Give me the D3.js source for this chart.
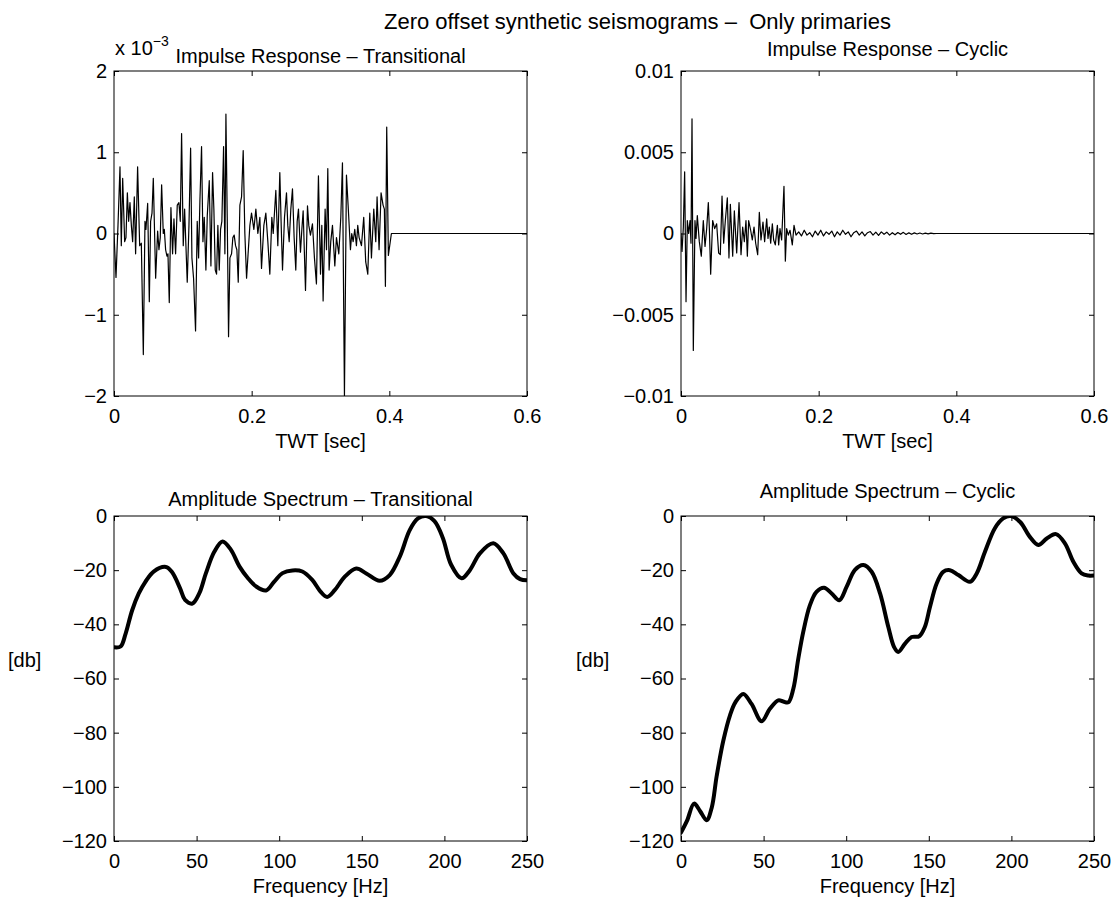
<!DOCTYPE html>
<html>
<head>
<meta charset="utf-8">
<script src="https://cdn.jsdelivr.net/npm/d3@7"></script>
<style>
  body { margin: 0; background: #fff; }
  svg text { font-family: "Liberation Sans", Arial, Helvetica, sans-serif; fill: #000; }
</style>
</head>
<body>
<svg id="fig" width="1118" height="907"></svg>
<script>
// ---- Impulse response, transitional sequence (time in s, amplitude in 1e-3) ----
const transTime = [0, .0029, .0058, .0087, .0106, .0126, .0155, .0174, .0194, .0213, .0232, .0252, .0271, .0295, .0314, .0343, .0373, .0397, .0426, .0450, .0464, .0489, .0513, .0532, .0552, .0571, .0605, .0634, .0653, .0672, .0692, .0716, .0731, .0750, .0769, .0784, .0803, .0827, .0851, .0871, .0895, .0919, .0943, .0963, .0982, .1006, .1026, .1045, .1064, .1089, .1113, .1132, .1156, .1185, .1209, .1229, .1248, .1272, .1292, .1311, .1335, .1355, .1384, .1408, .1432, .1451, .1471, .1490, .1509, .1529, .1548, .1567, .1592, .1611, .1626, .1645, .1664, .1684, .1708, .1727, .1746, .1766, .1785, .1805, .1829, .1853, .1877, .1901, .1926, .1974, .1998, .2032, .2061, .2090, .2119, .2143, .2177, .2206, .2235, .2264, .2293, .2313, .2351, .2380, .2409, .2429, .2448, .2477, .2506, .2525, .2545, .2569, .2593, .2617, .2641, .2661, .2680, .2709, .2729, .2748, .2782, .2811, .2830, .2854, .2883, .2912, .2941, .2970, .3000, .3019, .3038, .3067, .3087, .3106, .3125, .3149, .3174, .3208, .3232, .3266, .3295, .3319, .3348, .3377, .3401, .3435, .3454, .3474, .3498, .3522, .3541, .3561, .3595, .3628, .3657, .3687, .3716, .3740, .3774, .3803, .3822, .3851, .3880, .3909, .3928, .3943, .3962, .3986, .4030, .6];
const transAmp = [0, -0.54, 0.1, 0.82, -0.15, 0.68, -0.1, -0.05, 0.5, 0.15, 0.38, 0.1, -0.1, 0.45, -0.25, 0.82, -0.15, -0.12, -1.49, 0.15, 0.05, 0.37, -0.84, 0.15, 0.25, 0.68, -0.55, 0.03, -0.2, -0.05, 0.6, 0.0, 0.05, -0.2, -0.28, -0.25, -0.85, 0.32, -0.25, 0.18, -0.25, 0.35, 0.38, 0.15, 1.23, -0.15, 0.3, -0.15, -0.6, 0.1, 1.05, -0.3, -0.55, -1.2, 0.15, -0.3, 0.4, 1.07, -0.1, 0.2, -0.45, 0.22, 0.65, -0.4, 0.75, 0.3, -0.45, -0.5, 0.1, -0.45, 0.05, 0.15, 1.07, -0.25, 1.47, 0.2, -1.27, -0.3, -0.25, -0.05, -0.02, -0.15, -0.2, -0.6, 0.35, 0.45, 1.02, 0.0, -0.55, 0.1, 0.25, 0.05, 0.3, 0.0, 0.2, -0.43, 0.1, 0.25, -0.1, -0.5, 0.2, 0.0, 0.53, -0.15, 0.75, 0.1, -0.45, 0.2, 0.5, 0.1, -0.1, 0.3, 0.55, -0.05, -0.45, 0.15, 0.3, -0.23, 0.05, 0.28, -0.7, 0.34, 0.1, -0.02, 0.12, -0.3, -0.62, 0.71, -0.5, 0.1, -0.83, 0.3, -0.2, 0.8, -0.45, -0.1, 0.1, -0.4, -0.05, -0.25, 0.2, 0.87, -2.0, 0.72, 0.35, -0.2, 0.0, -0.1, 0.05, -0.15, 0.1, -0.05, -0.15, 0.2, -0.35, -0.5, 0.25, -0.3, 0.3, -0.1, 0.45, -0.2, 0.5, 0.35, 0.3, -0.65, 1.31, -0.27, 0.0, 0.0];

// ---- Impulse response, cyclic sequence (time in s, amplitude in 1e-3) ----
const cycTime = [0, .0015, .0034, .0053, .0073, .0092, .0111, .0131, .0145, .0160, .0179, .0203, .0218, .0237, .0266, .0295, .0324, .0349, .0373, .0397, .0412, .0431, .0460, .0489, .0518, .0547, .0571, .0596, .0620, .0644, .0673, .0697, .0717, .0751, .0775, .0809, .0843, .0872, .0896, .0920, .0944, .0964, .0983, .1012, .1036, .1061, .1085, .1114, .1138, .1162, .1191, .1215, .1245, .1264, .1283, .1303, .1327, .1346, .1370, .1400, .1419, .1438, .1462, .1496, .1516, .1535, .1559, .1584, .1617, .1642, .1671, .171, .175, .179, .183, .187, .191, .195, .199, .203, .207, .211, .215, .219, .223, .227, .231, .235, .239, .243, .247, .251, .255, .259, .263, .267, .271, .275, .279, .283, .287, .291, .295, .299, .303, .307, .311, .315, .319, .323, .327, .331, .335, .339, .343, .347, .351, .355, .359, .363, .367, .371, .6];
const cycAmp = [0, -1.1, 0.4, 3.8, -4.2, 0.8, 0.0, 0.8, -0.6, 7.05, -7.2, 0.8, -0.3, 1.1, -0.5, -1.4, 0.8, -0.8, 0.3, 1.9, 0.3, -2.5, 0.8, 0.3, 0.6, -1.2, -1.3, 2.3, -0.6, 0.8, 2.2, -1.5, 1.8, -1.4, 1.4, -1.2, 1.9, -1.3, 0.4, -0.5, 0.8, -1.4, 0.8, 0.2, -0.4, 0.4, -0.6, -1.3, 1.3, -0.4, 0.7, -0.5, 0.9, -0.3, 0.4, -0.6, 0.6, -0.4, -0.7, 0.5, -0.7, 0.3, -0.4, 2.9, -1.7, 0.3, -0.1, 0.2, -0.7, 0.5, -0.1, 0.1, -0.15, 0.2, -0.1, 0.05, -0.2, 0.15, -0.1, 0.2, -0.15, 0.1, -0.05, 0.15, -0.2, 0.1, -0.1, 0.2, -0.05, 0.1, -0.2, 0.05, 0.15, -0.1, 0.1, -0.15, 0.05, 0.12, -0.1, 0.08, -0.12, 0.1, -0.05, 0.08, -0.1, 0.05, -0.08, 0.06, -0.05, 0.07, -0.06, 0.04, -0.05, 0.04, -0.03, 0.03, -0.03, 0.02, -0.02, 0.02, -0.01, 0, 0];

// ---- Amplitude spectra (frequency in Hz, level in dB) ----
const transFreq = [0, 4, 7, 11, 15, 19, 24, 31.4, 35, 40, 43, 47.5, 51.6, 55.6, 60.7, 65.7, 70.8, 75.9, 81, 86, 92, 97, 102, 108, 114, 120, 125, 129, 133.6, 139.6, 146.6, 152.7, 160.8, 166.9, 173, 179, 184, 189, 194, 199, 204, 210.4, 215.4, 221.5, 229.6, 235.7, 241.8, 245.8, 250];
const transDb = [-48.5, -48.2, -43.5, -34.8, -28.6, -24.3, -20.5, -18.8, -20.6, -26.7, -31, -32.3, -28.6, -21.2, -13.2, -9.4, -12.5, -18.6, -22.9, -26, -27.5, -24.2, -21.1, -20.1, -20.5, -23.6, -27.9, -29.9, -27.4, -22.5, -19.4, -21.2, -23.9, -21.8, -15, -5.2, -0.9, 0, -1.9, -8, -17.9, -23, -20, -13.8, -10.1, -13.8, -21.2, -23.3, -23.7];

const cycFreq = [0, 3.6, 7.9, 11.5, 15.5, 18.6, 21.6, 25.6, 29.7, 32.9, 37.7, 42.7, 48.8, 53.8, 58.9, 61.9, 65, 68, 71, 74, 78, 82, 86.6, 91.2, 95.8, 100.3, 105.3, 110.4, 115.4, 120.5, 125.5, 129, 131.5, 135.5, 139.6, 144.2, 147.6, 150.7, 154.7, 158.7, 162.8, 167.9, 174.9, 179, 184, 190, 195, 199.6, 205.3, 211.3, 216.3, 221.4, 227, 232.4, 237.5, 242.5, 246.6, 250];
const cycDb = [-116.9, -112.6, -106.2, -108.9, -112.3, -107.7, -96, -83, -73.5, -68.8, -65.7, -69.4, -75.8, -71.2, -68.1, -68.5, -68.8, -63.8, -52.7, -42.8, -33, -28, -26.5, -28.6, -31.1, -26.1, -19.9, -18.1, -20.6, -28.6, -41, -48.4, -50.2, -47.2, -44.7, -44.4, -41, -33.6, -25, -20.6, -20, -21.8, -24.3, -21.2, -13.2, -4.5, -0.9, 0, -2.2, -7.8, -10.7, -8.3, -6.7, -10.1, -16.9, -21.2, -22, -22];

// ---- Tick values and labels ----
const twtTicks = [0, 0.2, 0.4, 0.6];
const twtLabels = ["0", "0.2", "0.4", "0.6"];
const transTicks = [-2, -1, 0, 1, 2];
const transLabels = ["\u22122", "\u22121", "0", "1", "2"];
const cycTicks = [-10, -5, 0, 5, 10];
const cycLabels = ["\u22120.01", "\u22120.005", "0", "0.005", "0.01"];
const freqTicks = [0, 50, 100, 150, 200, 250];
const freqLabels = ["0", "50", "100", "150", "200", "250"];
const dbTicks = [-120, -100, -80, -60, -40, -20, 0];
const dbLabels = ["\u2212120", "\u2212100", "\u221280", "\u221260", "\u221240", "\u221220", "0"];

const svg = d3.select("#fig");
const FONT = 20;
const TICK = 5;

function labelMap(ticks, labels) {
  const m = new Map(ticks.map((t, i) => [t, labels[i]]));
  return d => m.get(d);
}

function panel(cfg) {
  const x = d3.scaleLinear().domain(cfg.xDomain).range([cfg.x0, cfg.x1]);
  const y = d3.scaleLinear().domain(cfg.yDomain).range([cfg.y1, cfg.y0]);
  const g = svg.append("g");

  // clip region for the trace
  g.append("clipPath").attr("id", cfg.id)
    .append("rect").attr("x", cfg.x0).attr("y", cfg.y0)
    .attr("width", cfg.x1 - cfg.x0).attr("height", cfg.y1 - cfg.y0);

  const pts = cfg.xs.map((v, i) => [v, cfg.ys[i]]);
  const line = d3.line().x(d => x(d[0])).y(d => y(d[1])).curve(cfg.curve);
  g.append("path").datum(pts)
    .attr("clip-path", `url(#${cfg.id})`)
    .attr("d", line)
    .attr("fill", "none").attr("stroke", "#000")
    .attr("stroke-width", cfg.width)
    .attr("stroke-linejoin", "round").attr("stroke-linecap", "round");

  const style = sel => {
    sel.select(".domain").remove();
    sel.selectAll(".tick line").attr("stroke", "#000").attr("stroke-width", 1);
    sel.attr("font-size", FONT).attr("font-family", null);
    sel.selectAll("text").attr("fill", "#000");
  };

  g.append("g").attr("transform", `translate(0,${cfg.y1})`)
    .call(d3.axisBottom(x).tickValues(cfg.xTicks).tickFormat(labelMap(cfg.xTicks, cfg.xLabels))
      .tickSizeInner(-TICK).tickSizeOuter(0).tickPadding(13)).call(style);
  g.append("g").attr("transform", `translate(0,${cfg.y0})`)
    .call(d3.axisTop(x).tickValues(cfg.xTicks).tickFormat("")
      .tickSizeInner(-TICK).tickSizeOuter(0)).call(style);
  g.append("g").attr("transform", `translate(${cfg.x0},0)`)
    .call(d3.axisLeft(y).tickValues(cfg.yTicks).tickFormat(labelMap(cfg.yTicks, cfg.yLabels))
      .tickSizeInner(-TICK).tickSizeOuter(0).tickPadding(7)).call(style);
  g.append("g").attr("transform", `translate(${cfg.x1},0)`)
    .call(d3.axisRight(y).tickValues(cfg.yTicks).tickFormat("")
      .tickSizeInner(-TICK).tickSizeOuter(0)).call(style);

  // axes box
  g.append("rect").attr("x", cfg.x0).attr("y", cfg.y0)
    .attr("width", cfg.x1 - cfg.x0).attr("height", cfg.y1 - cfg.y0)
    .attr("fill", "none").attr("stroke", "#000").attr("stroke-width", 1);

  const cx = (cfg.x0 + cfg.x1) / 2;
  g.append("text").attr("x", cx).attr("y", cfg.titleY).attr("text-anchor", "middle")
    .attr("font-size", FONT).text(cfg.title);
  g.append("text").attr("x", cx).attr("y", cfg.y1 + 52).attr("text-anchor", "middle")
    .attr("font-size", FONT).text(cfg.xLabel);
  if (cfg.yLabel) {
    g.append("text").attr("x", cfg.yLabelX).attr("y", 667)
      .attr("font-size", FONT).text(cfg.yLabel);
  }
  return g;
}

panel({
  id: "c1", x0: 114, x1: 527, y0: 71, y1: 396,
  xDomain: [0, 0.6], yDomain: [-2, 2],
  xs: transTime, ys: transAmp, curve: d3.curveLinear, width: 1.2,
  xTicks: twtTicks, xLabels: twtLabels, yTicks: transTicks, yLabels: transLabels,
  title: "Impulse Response \u2013 Transitional", titleY: 63, xLabel: "TWT [sec]"
});

panel({
  id: "c2", x0: 681, x1: 1094, y0: 71, y1: 396,
  xDomain: [0, 0.6], yDomain: [-10, 10],
  xs: cycTime, ys: cycAmp, curve: d3.curveLinear, width: 1.2,
  xTicks: twtTicks, xLabels: twtLabels, yTicks: cycTicks, yLabels: cycLabels,
  title: "Impulse Response \u2013 Cyclic", titleY: 56, xLabel: "TWT [sec]"
});

panel({
  id: "c3", x0: 114, x1: 527, y0: 516, y1: 841,
  xDomain: [0, 250], yDomain: [-120, 0],
  xs: transFreq, ys: transDb, curve: d3.curveCatmullRom, width: 4,
  xTicks: freqTicks, xLabels: freqLabels, yTicks: dbTicks, yLabels: dbLabels,
  title: "Amplitude Spectrum \u2013 Transitional", titleY: 506, xLabel: "Frequency [Hz]",
  yLabel: "[db]", yLabelX: 8
});

panel({
  id: "c4", x0: 681, x1: 1094, y0: 516, y1: 841,
  xDomain: [0, 250], yDomain: [-120, 0],
  xs: cycFreq, ys: cycDb, curve: d3.curveCatmullRom, width: 4,
  xTicks: freqTicks, xLabels: freqLabels, yTicks: dbTicks, yLabels: dbLabels,
  title: "Amplitude Spectrum \u2013 Cyclic", titleY: 498, xLabel: "Frequency [Hz]",
  yLabel: "[db]", yLabelX: 576
});

// exponent marker for the transitional impulse response axis
const expo = svg.append("text").attr("x", 115).attr("y", 55).attr("font-size", FONT);
expo.append("tspan").text("x 10");
expo.append("tspan").attr("dy", -9).attr("font-size", 14).text("\u22123");

// figure title
svg.append("text").attr("x", 384).attr("y", 29).attr("font-size", 22)
  .style("white-space", "pre")
  .text("Zero offset synthetic seismograms \u2013  Only primaries");
</script>
</body>
</html>
